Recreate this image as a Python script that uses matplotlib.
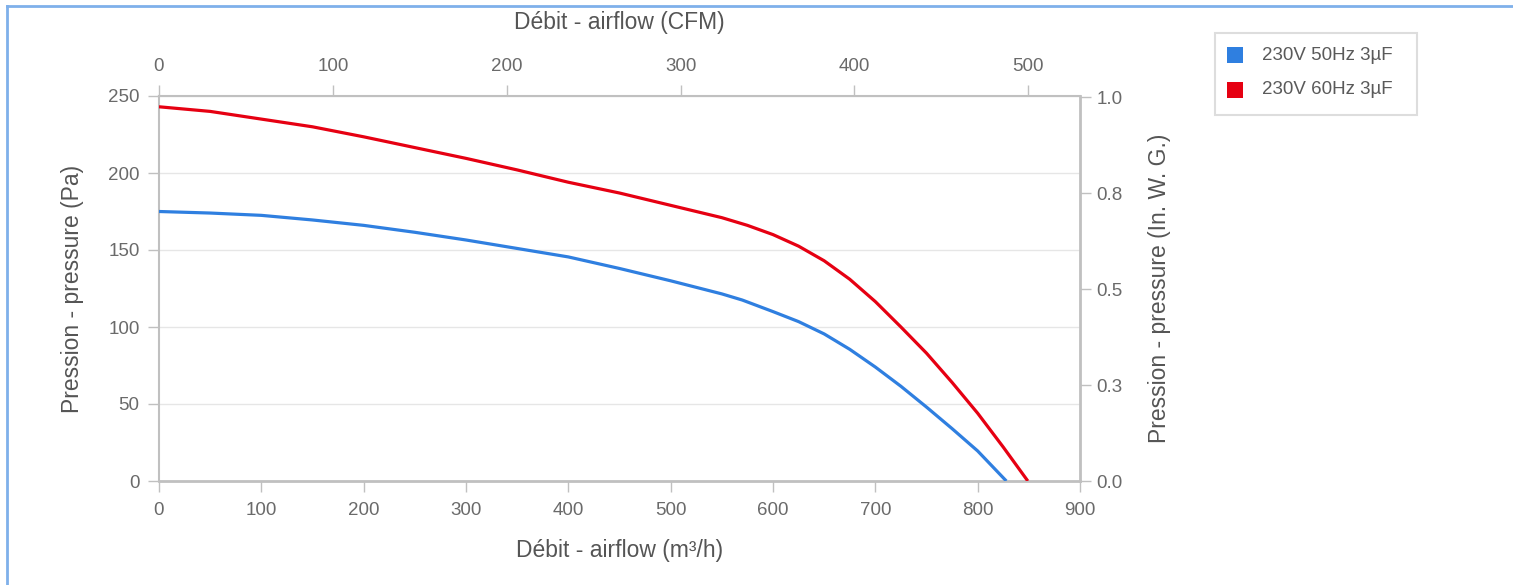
import matplotlib
matplotlib.use("Agg")
import matplotlib.pyplot as plt
from matplotlib.lines import Line2D
from matplotlib.patches import Rectangle

plt.rcParams['font.family'] = ['Liberation Sans', 'DejaVu Sans']

# Data (airflow m3/h, pressure Pa)
flow_50 = [0, 50, 100, 150, 200, 250, 300, 350, 400, 450, 500, 550, 570, 600, 625, 650, 675, 700, 725, 750, 775, 800, 828]
pres_50 = [175, 174, 172.5, 169.5, 166, 161.5, 156.5, 151, 145.5, 138, 130, 121.5, 117.5, 110, 103.5, 95.5, 85.5, 74, 61.5, 48, 34, 19.5, 0]
flow_60 = [0, 50, 100, 150, 200, 250, 300, 350, 400, 450, 500, 550, 575, 600, 625, 650, 675, 700, 725, 750, 775, 800, 825, 849]
pres_60 = [243, 240, 235, 230, 223.5, 216.5, 209.5, 202, 194, 187, 179, 171, 166, 160, 152.5, 143, 131, 116.5, 100, 83, 64, 44, 22, 0]
series_labels = ["230V 50Hz 3µF", "230V 60Hz 3µF"]
series_colors = ["#2f7fe0", "#e60012"]

x_ticks = [0, 100, 200, 300, 400, 500, 600, 700, 800, 900]
y_ticks = [0, 50, 100, 150, 200, 250]
cfm_ticks = [0, 100, 200, 300, 400, 500]
inwg_ticks = [0.0, 0.25, 0.5, 0.75, 1.0]
inwg_labels = ["0.0", "0.3", "0.5", "0.8", "1.0"]

M3H_PER_CFM = 1.699
PA_PER_INWG = 249.089

W, H = 1513, 585
fig = plt.figure(figsize=(W / 100, H / 100), dpi=100)
fig.patch.set_facecolor("white")

L, R, T, B = 159, 1080, 96, 481
ax = fig.add_axes([L / W, (H - B) / H, (R - L) / W, (B - T) / H])

grid_c = "#e6e6e6"
axis_c = "#c0c0c0"
tick_txt = "#6a6a6a"
title_c = "#555555"
TICK_FS = 13.5
TITLE_FS = 16.5

ax.plot(flow_50, pres_50, color=series_colors[0], lw=2.3, solid_capstyle="butt", zorder=3)
ax.plot(flow_60, pres_60, color=series_colors[1], lw=2.3, solid_capstyle="butt", zorder=3)

ax.set_xlim(0, 900)
ax.set_ylim(0, 250)
ax.set_xticks(x_ticks)
ax.set_yticks(y_ticks)
ax.yaxis.grid(True, color=grid_c, lw=1)
ax.set_axisbelow(True)
for s in ["left", "bottom", "top", "right"]:
    ax.spines[s].set_color(axis_c)
ax.spines["left"].set_linewidth(1.5)
ax.spines["bottom"].set_linewidth(2.0)
ax.spines["top"].set_linewidth(1.5)
ax.spines["right"].set_linewidth(2.0)
ax.tick_params(axis="both", colors=axis_c, labelcolor=tick_txt, labelsize=TICK_FS, length=8, width=1)
ax.tick_params(axis="x", pad=7)
ax.tick_params(axis="y", pad=6)
ax.set_xlabel("Débit - airflow (m³/h)", fontsize=TITLE_FS, color=title_c, va="center")
ax.xaxis.set_label_coords(0.5, (B - 551) / (B - T))
ax.set_ylabel("Pression - pressure (Pa)", fontsize=TITLE_FS, color=title_c, va="center")
ax.yaxis.set_label_coords((72 - L) / (R - L), 0.5)

# top CFM axis
axt = ax.twiny()
axt.set_xlim(0, 900 / M3H_PER_CFM)
axt.set_xticks(cfm_ticks)
axt.tick_params(axis="x", colors=axis_c, labelcolor=tick_txt, labelsize=TICK_FS, length=8, width=1, pad=7)
axt.set_xlabel("Débit - airflow (CFM)", fontsize=TITLE_FS, color=title_c, va="center")
axt.xaxis.set_label_coords(0.5, (B - 22) / (B - T))
for s in axt.spines.values():
    s.set_visible(False)

# right in. W.G. axis
axr = ax.twinx()
axr.set_ylim(0, 250 / PA_PER_INWG)
axr.set_yticks(inwg_ticks)
axr.set_yticklabels(inwg_labels)
axr.tick_params(axis="y", colors=axis_c, labelcolor=tick_txt, labelsize=TICK_FS, length=8, width=1, pad=4)
axr.set_ylabel("Pression - pressure (In. W. G.)", fontsize=TITLE_FS, color=title_c, va="center")
axr.yaxis.set_label_coords((1160 - L) / (R - L), 0.5)
for s in axr.spines.values():
    s.set_visible(False)

# legend box (drawn in figure pixel coordinates)
def fx(px):
    return px / W

def fy(py):
    return 1 - py / H

fig.add_artist(Rectangle((fx(1215), fy(115)), fx(1417) - fx(1215), fy(33) - fy(115),
                         transform=fig.transFigure, facecolor="white", edgecolor="#dddddd", lw=1.5))
for i, (lab, col) in enumerate(zip(series_labels, series_colors)):
    cy = 55 + 35 * i
    fig.add_artist(Rectangle((fx(1227), fy(cy + 8)), fx(16), 16 / H,
                             transform=fig.transFigure, facecolor=col, edgecolor="none"))
    fig.text(fx(1262), fy(cy), lab, fontsize=13.5, color="#5a5a5a", va="center", ha="left")

# outer border (top and left)
fig.add_artist(Line2D([7 / W, 1.0], [1 - 6 / H, 1 - 6 / H], color="#7fb0ea", lw=2, transform=fig.transFigure))
fig.add_artist(Line2D([7 / W, 7 / W], [0, 1 - 6 / H], color="#7fb0ea", lw=2, transform=fig.transFigure))

fig.savefig("out.png", dpi=100, facecolor="white")
